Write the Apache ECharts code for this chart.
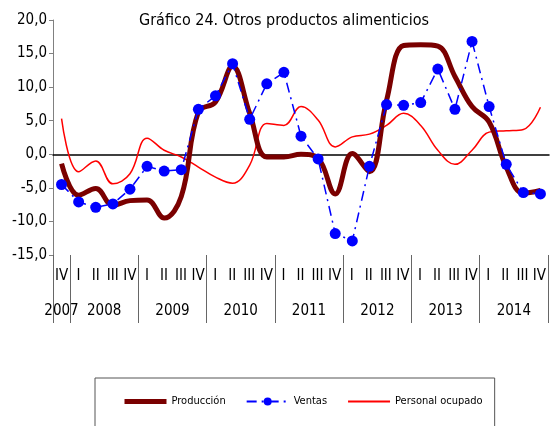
<!DOCTYPE html>
<html>
<head>
<meta charset="utf-8">
<script src="https://cdn.jsdelivr.net/npm/echarts@6/dist/echarts.min.js"></script>
<style>
  html, body { margin: 0; padding: 0; background: #fff; }
  #main { width: 551px; height: 426px; }
</style>
</head>
<body>
<div id="main"></div>
<script>
// trimestres 2007 IV - 2014 IV
const quarters = ['IV',
  'I', 'II', 'III', 'IV', 'I', 'II', 'III', 'IV', 'I', 'II', 'III', 'IV',
  'I', 'II', 'III', 'IV', 'I', 'II', 'III', 'IV', 'I', 'II', 'III', 'IV',
  'I', 'II', 'III', 'IV'];
const years = ['2007', '2008', '2009', '2010', '2011', '2012', '2013', '2014'];

const produccion = [-1.4, -6.1, -5.1, -7.6, -6.9, -6.8, -9.5, -6.3, 6.3, 7.8,
  13.1, 6.1, -0.4, -0.4, 0.0, -0.6, -5.9, 0.1, -2.6, 8.0, 16.2, 16.3, 16.1,
  11.6, 7.1, 4.8, -1.9, -5.8, -5.4];
const ventas = [-4.5, -7.1, -7.9, -7.4, -5.2, -1.8, -2.5, -2.3, 6.7, 8.7,
  13.5, 5.2, 10.5, 12.2, 2.7, -0.7, -11.8, -12.9, -1.8, 7.4, 7.3, 7.7, 12.7,
  6.7, 16.8, 7.1, -1.5, -5.7, -5.9];
const personal = [5.3, -2.6, -1.0, -4.4, -2.9, 2.4, 0.6, -0.4, -1.9, -3.4,
  -4.3, -1.6, 4.6, 4.3, 7.1, 5.1, 1.1, 2.6, 3.0, 4.3, 6.1, 4.3, 0.6, -1.5,
  0.6, 3.3, 3.5, 3.7, 7.0];

const narrow = "'Liberation Sans Narrow', 'Arial Narrow', 'DejaVu Sans Condensed', sans-serif";

// eje de años en medios trimestres: 59 puntos de frontera
const half = [];
const yearTicks = [0, 2];
const yearLabelAt = { 1: years[0] };
for (let k = 1; k < years.length; k++) {
  yearTicks.push(2 + 8 * k);
  yearLabelAt[6 + 8 * (k - 1)] = years[k];
}
for (let i = 0; i <= 58; i++) half.push(yearLabelAt[i] || '');

const chart = echarts.init(document.getElementById('main'));
chart.setOption({
  animation: false,
  textStyle: { fontFamily: narrow },
  title: {
    text: 'Gráfico 24. Otros productos alimenticios',
    left: 134,
    top: 8,
    textStyle: { fontFamily: narrow, fontSize: 16, fontWeight: 'normal', color: '#000' }
  },
  legend: {
    left: 95,
    top: 378,
    padding: [18, 12, 40, 27],
    itemGap: 20,
    itemWidth: 42,
    itemHeight: 10,
    borderColor: '#555',
    borderWidth: 1,
    textStyle: { fontFamily: narrow, fontSize: 11, color: '#000' },
    data: [
      { name: 'Producción', itemStyle: { opacity: 0 }, lineStyle: { width: 5 } },
      { name: 'Ventas' },
      { name: 'Personal ocupado', itemStyle: { opacity: 0 } }
    ]
  },
  grid: [
    { left: 53, top: 20, width: 496, height: 235 },
    { left: 53, top: 255, width: 496, height: 70 }
  ],
  xAxis: [
    {
      type: 'category',
      gridIndex: 0,
      data: quarters,
      axisLine: { onZero: true, lineStyle: { color: '#000', width: 1.5 } },
      axisTick: { inside: true, length: 6, lineStyle: { color: '#000' } },
      axisLabel: { show: false }
    },
    {
      type: 'category',
      gridIndex: 1,
      position: 'top',
      data: quarters,
      axisLine: { show: false },
      axisTick: { inside: true, length: 33, lineStyle: { color: '#333' } },
      axisLabel: { inside: true, margin: 14, fontSize: 15, color: '#000', interval: 0 }
    },
    {
      type: 'category',
      gridIndex: 1,
      position: 'top',
      boundaryGap: false,
      data: half,
      axisLine: { show: false },
      axisTick: {
        inside: true, length: 68, lineStyle: { color: '#666' },
        interval: function (i) { return yearTicks.indexOf(i) >= 0; }
      },
      axisLabel: { inside: true, margin: 49, fontSize: 15, color: '#000', interval: 0 }
    }
  ],
  yAxis: [
    {
      type: 'value',
      gridIndex: 0,
      min: -15,
      max: 20,
      interval: 5,
      splitLine: { show: false },
      axisLine: { show: true, lineStyle: { color: '#808080' } },
      axisTick: { show: true, length: 4, lineStyle: { color: '#808080' } },
      axisLabel: {
        fontSize: 15, color: '#000', margin: 6,
        formatter: v => v.toFixed(1).replace('.', ',')
      }
    },
    {
      type: 'value',
      gridIndex: 1,
      show: false
    }
  ],
  series: [
    {
      name: 'Producción',
      type: 'line',
      data: produccion,
      smooth: 0.4,
      symbol: 'none',
      lineStyle: { color: '#7a0000', width: 5 },
      itemStyle: { color: '#7a0000' },
      z: 3
    },
    {
      name: 'Ventas',
      type: 'line',
      data: ventas,
      symbol: 'circle',
      symbolSize: 11,
      lineStyle: { color: '#0000ff', width: 1.5, type: [10, 5, 2, 5] },
      itemStyle: { color: '#0000ff' },
      z: 4
    },
    {
      name: 'Personal ocupado',
      type: 'line',
      data: personal,
      smooth: 0.4,
      symbol: 'none',
      lineStyle: { color: '#ff0000', width: 1.5 },
      itemStyle: { color: '#ff0000' },
      z: 2
    }
  ]
});
</script>
</body>
</html>
